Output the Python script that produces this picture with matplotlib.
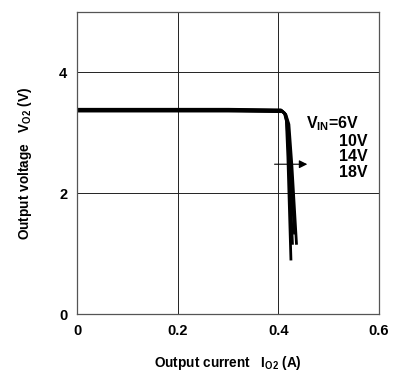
import matplotlib.pyplot as plt

plt.rcParams['font.family'] = 'Liberation Sans'
plt.rcParams['mathtext.fontset'] = 'custom'
plt.rcParams['mathtext.rm'] = 'Liberation Sans:bold'
plt.rcParams['mathtext.bf'] = 'Liberation Sans:bold'

# output current (A) / output voltage (V) for each input voltage
vin_labels = ['6V', '10V', '14V', '18V']
io_6v = [0.0, 0.30, 0.405, 0.412, 0.416, 0.419, 0.425]
vo_6v = [3.39, 3.39, 3.38, 3.33, 3.20, 2.60, 0.91]
io_10v = [0.0, 0.30, 0.406, 0.413, 0.417, 0.421, 0.428]
vo_10v = [3.38, 3.38, 3.37, 3.32, 3.18, 2.55, 1.17]
io_14v = [0.0, 0.30, 0.407, 0.414, 0.419, 0.424, 0.432]
vo_14v = [3.37, 3.37, 3.36, 3.31, 3.16, 2.50, 1.34]
io_18v = [0.0, 0.30, 0.408, 0.415, 0.421, 0.427, 0.436]
vo_18v = [3.36, 3.36, 3.35, 3.30, 3.14, 2.45, 1.17]

fig = plt.figure(figsize=(4.04, 3.71), dpi=100)
ax = fig.add_axes([0.1906, 0.1536, 0.7475, 0.814])

for io, vo in [(io_6v, vo_6v), (io_10v, vo_10v), (io_14v, vo_14v), (io_18v, vo_18v)]:
    ax.plot(io, vo, color='black', linewidth=2.0, solid_joinstyle='round')

ax.set_xlim(0, 0.6)
ax.set_ylim(0, 5)
ax.set_xticks([0, 0.2, 0.4, 0.6])
ax.set_xticklabels(['0', '0.2', '0.4', '0.6'])
ax.set_yticks([0, 2, 4])
ax.set_yticklabels(['0', '2', '4'])
ax.tick_params(length=0, labelsize=10.5, pad=7)
for lab in ax.get_xticklabels() + ax.get_yticklabels():
    lab.set_fontweight('bold')
ax.grid(True, color='#222222', linewidth=0.7)
for sp in ax.spines.values():
    sp.set_color('#555555')
    sp.set_linewidth(0.9)

ax.set_xlabel(r'Output current   I$_{\mathregular{O2}}$ (A)', fontsize=9.8,
              fontweight='bold', labelpad=12)
ax.set_ylabel(r'Output voltage   V$_{\mathregular{O2}}$ (V)', fontsize=9.8,
              fontweight='bold', labelpad=18)

# legend-like annotation
ax.text(0.455, 3.16, r'V$_{\mathregular{IN}}$=' + vin_labels[0], fontsize=11.5,
        fontweight='bold', ha='left', va='center')
for i, lab in enumerate(vin_labels[1:]):
    ax.text(0.577, 2.86 - i * 0.255, lab, fontsize=11.5, fontweight='bold',
            ha='right', va='center')
ax.annotate('', xy=(0.463, 2.48), xytext=(0.387, 2.48),
            arrowprops=dict(arrowstyle='-|>', color='black', lw=0.8,
                            mutation_scale=12))

fig.savefig('out.png', dpi=100)
